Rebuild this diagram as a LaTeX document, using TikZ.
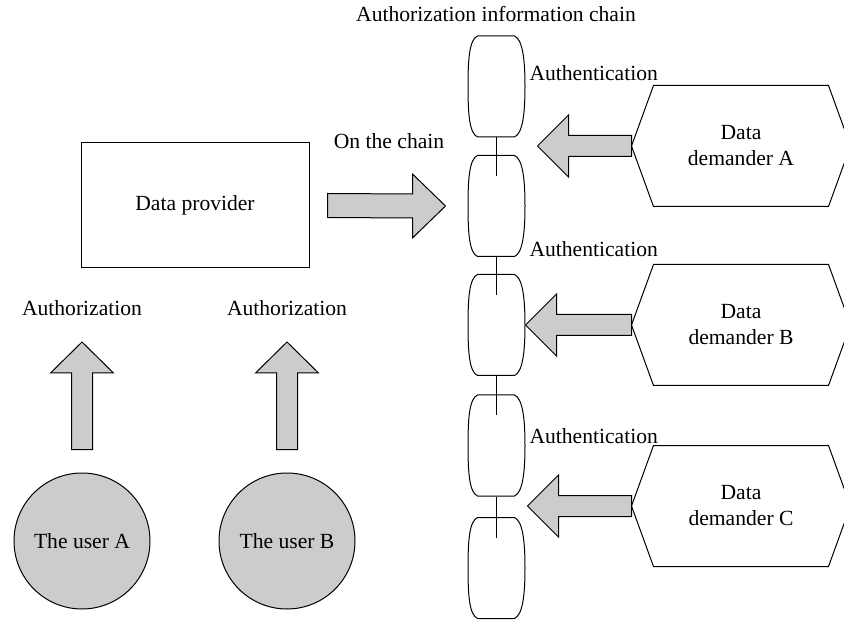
\documentclass[tikz,border=0pt]{standalone}
\usepackage{fontspec}
\setmainfont{Liberation Serif}
\usetikzlibrary{calc}
% block arrows: #1 tail, #2 tip
\newcommand\rblock[2]{\draw[blk] ($#1+(0,-12)$) -- ($#2+(-33,-12)$) -- ($#2+(-33,-32)$) -- #2 -- ($#2+(-33,32)$) -- ($#2+(-33,12)$) -- ($#1+(0,12)$) -- cycle;}
\newcommand\lblock[2]{\draw[blk] ($#1+(0,-10.5)$) -- ($#2+(31,-10.5)$) -- ($#2+(31,-31)$) -- #2 -- ($#2+(31,31)$) -- ($#2+(31,10.5)$) -- ($#1+(0,10.5)$) -- cycle;}
\newcommand\ublock[2]{\draw[blk] ($#1+(-10.5,0)$) -- ($#2+(-10.5,31)$) -- ($#2+(-31.5,31)$) -- #2 -- ($#2+(31.5,31)$) -- ($#2+(10.5,31)$) -- ($#1+(10.5,0)$) -- cycle;}
\begin{document}
\begin{tikzpicture}[x=1pt,y=-1pt,
  font=\fontsize{21.6}{26}\selectfont, line width=1pt,
  blk/.style={draw, fill=gray!40, line join=miter},
  box/.style={draw, minimum width=228, minimum height=125, inner sep=0},
  user/.style={circle, draw, fill=gray!40, minimum size=136, inner sep=0},
  link/.style={minimum width=57, minimum height=101, inner sep=0},
  hexa/.style={minimum width=218, minimum height=120, inner sep=0, align=center},
  lbl/.style={inner sep=0}]
\useasboundingbox (0,0) rectangle (844,620);
\clip (0,0) rectangle (844,620);

% title
\node[lbl] (title) at (496,14) {Authorization information chain};

% chain links
\node[link] (L1) at (496.5,86.5) {};
\node[link] (L2) at (496.5,206) {};
\node[link] (L3) at (496.5,325) {};
\node[link] (L4) at (496.5,445.5) {};
\node[link] (L5) at (496.5,568) {};
\foreach \i in {1,...,5}
  \draw[shift={(L\i)}] (-19,-50.5) -- (18,-50.5)
    .. controls (26,-47) and (28.5,-28) .. (28.5,0)
    .. controls (28.5,28) and (26,47) .. (18,50.5) -- (-19,50.5)
    .. controls (-27,47) and (-28.5,28) .. (-28.5,0)
    .. controls (-28.5,-28) and (-27,-47) .. cycle;
\foreach \a/\b in {L1/L2,L2/L3,L3/L4,L4/L5}
  \draw (\a.south) -- ($(\b.north)+(0,21)$);

% data provider
\node[box] (prov) at (195,205.5) {Data provider};
\node[lbl] (onchain) at (389,141) {On the chain};
\coordinate (pt) at ($(prov.east)+(18,0)$);
\coordinate (ph) at ($(L2.west)+(-22,0)$);
\rblock{(pt)}{(ph)}

% demanders
\node[hexa] (DA) at (741,146) {Data\\demander A};
\node[hexa] (DB) at (741,325) {Data\\demander B};
\node[hexa] (DC) at (741,506) {Data\\demander C};
\foreach \n in {DA,DB,DC}
  \draw (\n.west) -- ($(\n.north west)+(22,0)$) -- ($(\n.north east)+(-22,0)$)
    -- (\n.east) -- ($(\n.south east)+(-22,0)$) -- ($(\n.south west)+(22,0)$) -- cycle;

\node[lbl, anchor=west] (au1) at (529,73) {Authentication};
\node[lbl, anchor=west] (au2) at (529,249) {Authentication};
\node[lbl, anchor=west] (au3) at (529,436) {Authentication};

\coordinate (ta) at ($(L1.east |- DA.west)+(12,0)$);
\coordinate (tb) at ($(L3.east |- DB.west)+(0,0)$);
\coordinate (tc) at ($(L4.east |- DC.west)+(2,0)$);
\lblock{(DA.west)}{(ta)}
\lblock{(DB.west)}{(tb)}
\lblock{(DC.west)}{(tc)}

% users
\node[user] (ua) at (82,541) {The user A};
\node[user] (ub) at (287,541) {The user B};
\node[lbl] (autha) at (82,308) {Authorization};
\node[lbl] (authb) at (287,308) {Authorization};
\coordinate (uat) at ($(ua.north)+(0,-23)$);
\coordinate (ubt) at ($(ub.north)+(0,-23)$);
\coordinate (uah) at ($(autha)+(0,34)$);
\coordinate (ubh) at ($(authb)+(0,34)$);
\ublock{(uat)}{(uah)}
\ublock{(ubt)}{(ubh)}
\end{tikzpicture}
\end{document}
